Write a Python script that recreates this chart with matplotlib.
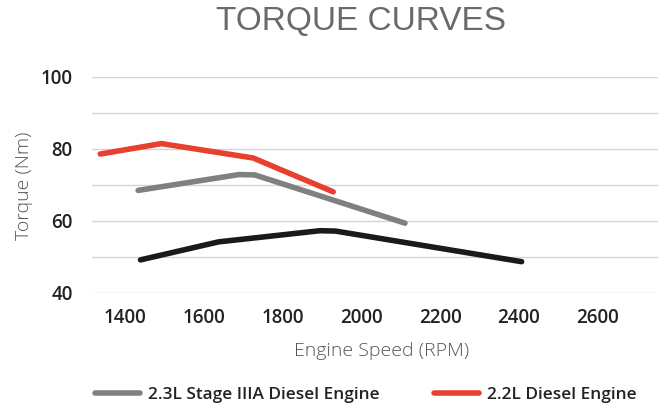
import matplotlib
matplotlib.use("Agg")
import matplotlib.pyplot as plt

# engine speed (rpm) / torque (Nm)
stage3a_rpm = [1434, 1690, 1730, 2111]
stage3a_torque = [68.5, 72.9, 72.8, 59.4]

d22_rpm = [1338, 1493, 1726, 1929]
d22_torque = [78.6, 81.5, 77.5, 68.1]

black_rpm = [1440, 1638, 1895, 1935, 2407]
black_torque = [49.2, 54.2, 57.3, 57.2, 48.7]

x_ticks = [1400, 1600, 1800, 2000, 2200, 2400, 2600]
y_ticks = [40, 60, 80, 100]
y_grid = [40, 50, 60, 70, 80, 90, 100]

GRAY = "#808080"
RED = "#e8402f"
BLACK = "#1a1a1a"

plt.rcParams["font.family"] = ["Open Sans", "DejaVu Sans"]

fig = plt.figure(figsize=(6.58, 4.07), dpi=100)
ax = fig.add_axes([92 / 658, 1 - 293 / 407, 1 - 92 / 658, 216 / 407])

for g in y_grid:
    ax.axhline(g, color="#d4d4d4", lw=1.0, zorder=0)

ax.plot(black_rpm, black_torque, color=BLACK, lw=4, solid_capstyle="round",
        solid_joinstyle="round")
ax.plot(stage3a_rpm, stage3a_torque, color=GRAY, lw=4, solid_capstyle="round",
        solid_joinstyle="round", label="2.3L Stage IIIA Diesel Engine")
ax.plot(d22_rpm, d22_torque, color=RED, lw=4, solid_capstyle="round",
        solid_joinstyle="round", label="2.2L Diesel Engine")

ax.set_xlim(1317, 2753)
ax.set_ylim(40, 100)
ax.set_xticks(x_ticks)
ax.set_yticks(y_ticks)
for s in ax.spines.values():
    s.set_visible(False)
ax.tick_params(length=0, labelsize=13.5, colors="#222222")
ax.tick_params(axis="y", pad=14)
ax.tick_params(axis="x", pad=11)
for lbl in ax.get_xticklabels() + ax.get_yticklabels():
    lbl.set_fontweight("semibold")

ax.set_xlabel("Engine Speed (RPM)", fontsize=14, color="#555555", fontweight="light")
ax.xaxis.set_label_coords(0.512, -0.269)
ax.xaxis.label.set_va("center")
ax.set_ylabel("Torque (Nm)", fontsize=14, color="#555555", fontweight="light")
ax.yaxis.set_label_coords(-0.12, 0.498)
ax.yaxis.label.set_va("center")

fig.text(361 / 658, 1 - 22 / 407, "TORQUE CURVES", ha="center", va="center",
         fontsize=24, color="#6a6a6a",
         family=["Liberation Sans Narrow", "Liberation Sans", "DejaVu Sans"])

leg = fig.legend(loc="center left", bbox_to_anchor=(95 / 658, 1 - 395 / 407),
                 ncol=2, frameon=False, fontsize=12.4, handlelength=2.6,
                 handletextpad=0.45, columnspacing=3.2, borderpad=0,
                 borderaxespad=0)
for t in leg.get_texts():
    t.set_fontweight("semibold")
    t.set_color("#222222")
for h in leg.legend_handles:
    h.set_linewidth(4)

fig.savefig("out.png", dpi=100)
